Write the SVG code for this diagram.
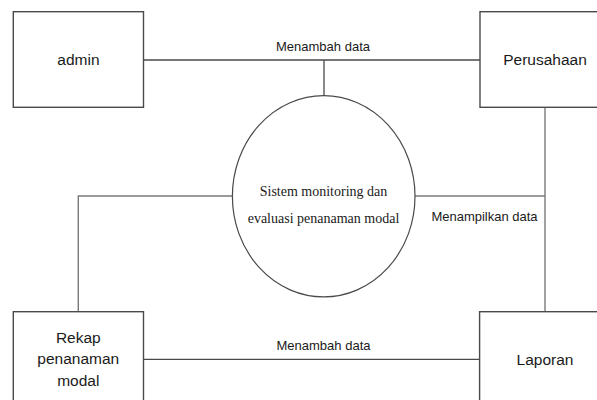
<svg xmlns="http://www.w3.org/2000/svg" width="597" height="400" viewBox="0 0 597 400">
<style>
.box{fill:#fff;stroke:#4a4a4a;stroke-width:1.4}
.lbl{font-family:"Liberation Sans",Arial,sans-serif;font-size:15.5px;fill:#1a1a1a;text-anchor:middle}
.flow{font-family:"Liberation Sans",Arial,sans-serif;font-size:13px;fill:#1a1a1a;text-anchor:middle}
.proc{font-family:"Liberation Serif","Times New Roman",serif;font-size:14px;fill:#1a1a1a;text-anchor:middle}
.ln{fill:none;stroke:#4a4a4a;stroke-width:1.3}
.ln2{fill:none;stroke:#7a7a7a;stroke-width:1.4}
</style>
<rect width="597" height="400" fill="#fff"/>
<g id="connectors">
<path class="ln" d="M143.5 60H480"/>
<path class="ln" d="M324 60V95.7"/>
<text class="flow" x="323" y="50.5">Menambah data</text>
<path class="ln2" d="M415 196H545"/>
<path class="ln2" d="M545 107.3V311.7"/>
<text class="flow" x="484.5" y="221">Menampilkan data</text>
<path class="ln2" d="M232.3 196H78.3V311.7"/>
<path class="ln" d="M143.5 359.3H479.6"/>
<text class="flow" x="323.5" y="349.5">Menambah data</text>
</g>
<g id="admin">
<rect class="box" x="13.3" y="11.7" width="130.2" height="95.6"/>
<text class="lbl" x="78.4" y="65">admin</text>
</g>
<g id="perusahaan">
<rect class="box" x="480" y="11.7" width="130" height="95.6"/>
<text class="lbl" x="545" y="65">Perusahaan</text>
</g>
<g id="sistem">
<ellipse cx="323.7" cy="196.3" rx="91.3" ry="100.6" fill="#fff" stroke="#4a4a4a" stroke-width="1.2"/>
<text class="proc" x="323.5" y="195.5">Sistem monitoring dan</text>
<text class="proc" x="323.5" y="223">evaluasi penanaman modal</text>
</g>
<g id="rekap">
<rect class="box" x="13.3" y="311.7" width="130.2" height="100"/>
<text class="lbl" x="78.3" y="342.7">Rekap</text>
<text class="lbl" x="78.3" y="364.3">penanaman</text>
<text class="lbl" x="78.3" y="386">modal</text>
</g>
<g id="laporan">
<rect class="box" x="479.6" y="311.7" width="130" height="100"/>
<text class="lbl" x="545" y="365">Laporan</text>
</g>
</svg>
